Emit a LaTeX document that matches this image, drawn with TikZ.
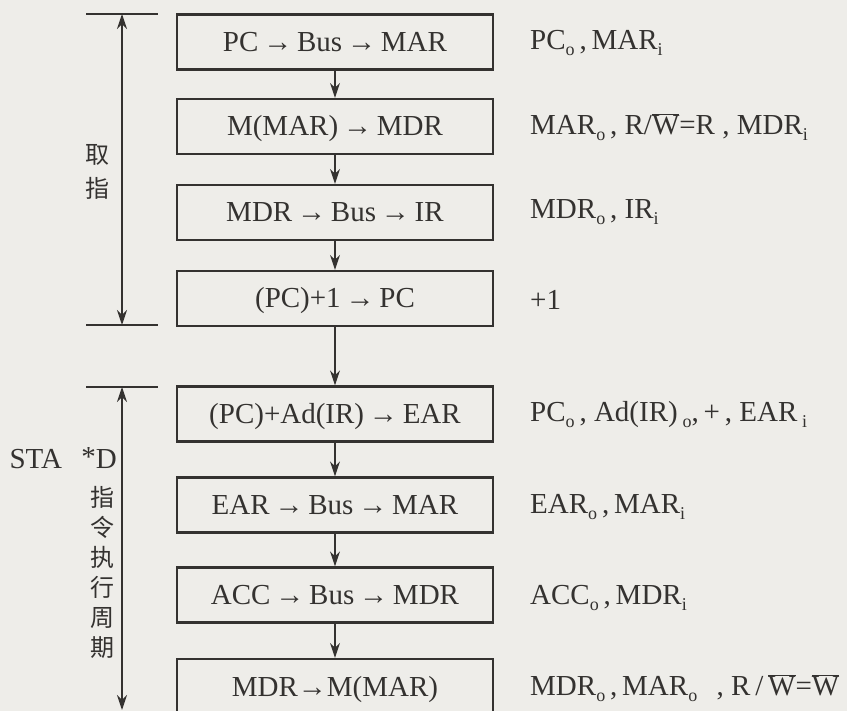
\documentclass[tikz,border=0pt]{standalone}
\usepackage{fontspec}
\setmainfont{Liberation Serif}
\newfontfamily\cjk{Noto Sans CJK SC}
\usetikzlibrary{arrows.meta}
\definecolor{bg}{RGB}{238,237,233}
\definecolor{ink}{RGB}{52,50,48}
\newcommand\sbs[1]{\raisebox{-0.45ex}{\fontsize{18}{18}\selectfont #1}}
\newcommand\wbar{\ensuremath{\overline{\hbox{W}}}}
\begin{document}
\begin{tikzpicture}[x=1pt,y=-1pt,
  every node/.style={text=ink,font=\fontsize{29}{31}\selectfont},
  stepbox/.style={draw=ink,line width=2.3pt,minimum width=316pt,minimum height=55pt,inner sep=0pt,text height=19pt,text depth=0pt},
  sig/.style={anchor=west,inner sep=0pt},
  flow/.style={draw=ink,line width=1.3pt,-{Stealth[length=15pt,width=10pt]}},
  dim/.style={draw=ink,line width=1.3pt},
  tick/.style={draw=ink,line width=1.3pt},
  cjkch/.style={font=\cjk\fontsize{24}{26}\selectfont,inner sep=0pt}]
\clip (0,0) rectangle (847,711);
\fill[bg] (0,0) rectangle (847,711);
% boxes
\node[stepbox] (b1) at (335,42) {PC\,→\,Bus\,→\,MAR};
\node[stepbox] (b2) at (335,126.5) {M(MAR)\,→\,MDR};
\node[stepbox] (b3) at (335,212.5) {MDR\,→\,Bus\,→\,IR};
\node[stepbox] (b4) at (335,298.5) {(PC)+1\,→\,PC};
\node[stepbox] (b5) at (335,414) {(PC)+Ad(IR)\,→\,EAR};
\node[stepbox] (b6) at (335,505) {EAR\,→\,Bus\,→\,MAR};
\node[stepbox] (b7) at (335,595) {ACC\,→\,Bus\,→\,MDR};
\node[stepbox] (b8) at (335,686.5) {MDR→M(MAR)};
% flow arrows
\draw[flow] (b1.south) -- (b2.north);
\draw[flow] (b2.south) -- (b3.north);
\draw[flow] (b3.south) -- (b4.north);
\draw[flow] (b4.south) -- (b5.north);
\draw[flow] (b5.south) -- (b6.north);
\draw[flow] (b6.south) -- (b7.north);
\draw[flow] (b7.south) -- (b8.north);
% signals
\node[sig] (s1) at (530,43) {PC\sbs{o}\,,\,MAR\sbs{i}};
\node[sig] (s2) at (530,127) {MAR\sbs{o}\,, R/\wbar=R , MDR\sbs{i}};
\node[sig] (s3) at (530,212) {MDR\sbs{o}\,, IR\sbs{i}};
\node[sig] (s4) at (530,300) {+1};
\node[sig] (s5) at (530,415) {PC\sbs{o}\,, Ad(IR)\,\sbs{o},\,+\,, EAR\,\sbs{i}};
\node[sig] (s6) at (530,507) {EAR\sbs{o}\,,\,MAR\sbs{i}};
\node[sig] (s7) at (530,598) {ACC\sbs{o}\,,\,MDR\sbs{i}};
\node[sig] (s8) at (530,688) {MDR\sbs{o}\,,\,MAR\sbs{o}\enspace\,, R\,/\,\wbar=\wbar};
% fetch dimension
\coordinate (t1a) at (86,14); \coordinate (t1b) at (158,14);
\coordinate (t2a) at (86,325); \coordinate (t2b) at (158,325);
\draw[tick] (t1a) -- (t1b);
\draw[tick] (t2a) -- (t2b);
\coordinate (d1t) at (122,14); \coordinate (d1b) at (122,325);
\draw[dim,{Stealth[length=15pt,width=10pt]}-{Stealth[length=15pt,width=10pt]}] (d1t) -- (d1b);
\node[cjkch] (q1) at (97,155) {取};
\node[cjkch] (q2) at (97,188) {指};
% execute dimension
\coordinate (t3a) at (86,387); \coordinate (t3b) at (158,387);
\draw[tick] (t3a) -- (t3b);
\coordinate (d2t) at (122,387); \coordinate (d2b) at (122,710);
\draw[dim,{Stealth[length=15pt,width=10pt]}-{Stealth[length=15pt,width=10pt]}] (d2t) -- (d2b);
\node[anchor=east,inner sep=0pt] (sta) at (117,458) {STA\enspace\,\raisebox{0.15ex}{*}D};
\foreach \ch [count=\i from 0] in {指,令,执,行,周,期}{
  \node[cjkch] (e\i) at (102,497+30.2*\i) {\ch};
}
\end{tikzpicture}
\end{document}
